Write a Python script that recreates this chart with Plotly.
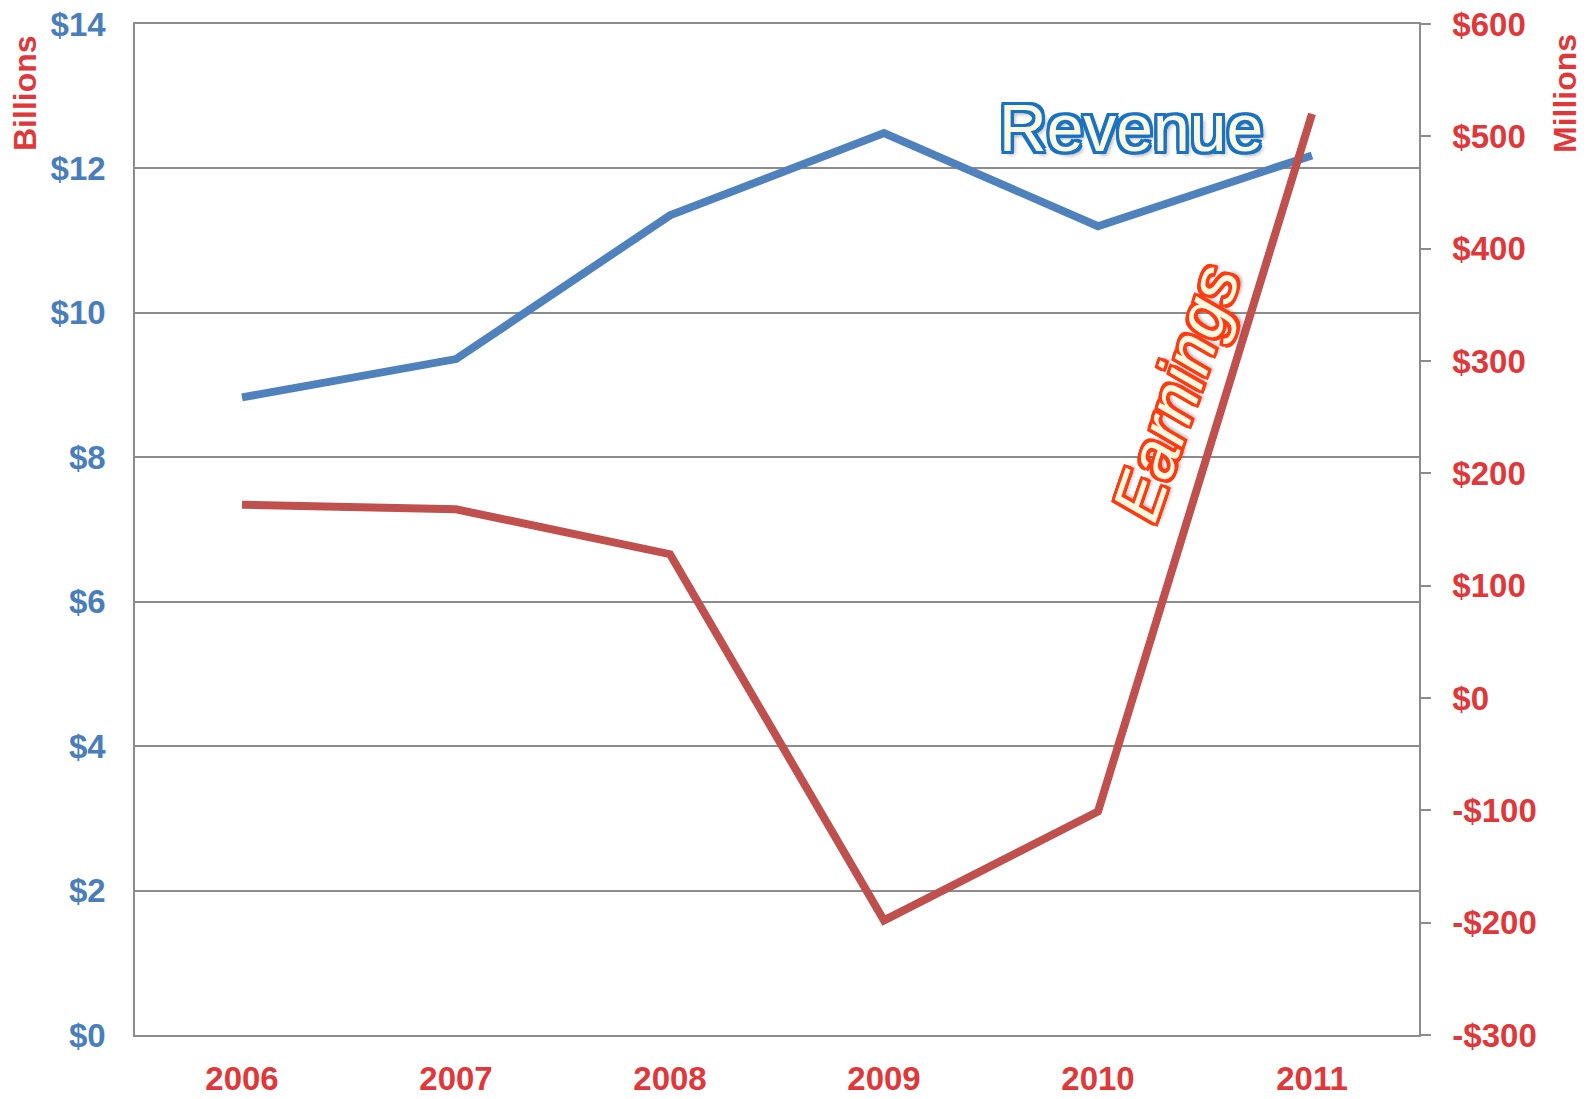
import plotly.graph_objects as go

years = ["2006", "2007", "2008", "2009", "2010", "2011"]
revenue_billions = [8.83, 9.36, 11.35, 12.49, 11.20, 12.18]
earnings_millions = [172, 168, 128, -198, -101, 520]

left_tickvals = [0, 2, 4, 6, 8, 10, 12, 14]
left_ticktext = ["$0", "$2", "$4", "$6", "$8", "$10", "$12", "$14"]
right_tickvals = [-300, -200, -100, 0, 100, 200, 300, 400, 500, 600]
right_ticktext = ["-$300", "-$200", "-$100", "$0", "$100", "$200", "$300", "$400", "$500", "$600"]

BLUE = "#4F81BD"
RED = "#C0504D"
LBL_BLUE = "#4A7EBB"
LBL_RED = "#E0383A"
GRID = "#8C8C8C"
FONT = "Liberation Sans, Arial, sans-serif"

fig = go.Figure()
fig.add_trace(go.Scatter(x=years, y=revenue_billions, mode="lines",
                         line=dict(color=BLUE, width=8), yaxis="y", showlegend=False))
fig.add_trace(go.Scatter(x=years, y=earnings_millions, mode="lines",
                         line=dict(color=RED, width=8), yaxis="y2", showlegend=False))


def outline(color, w=2.5, drop="4px 4px 4px rgba(0,0,0,0.35)"):
    offs = []
    for dx, dy in [(-w, 0), (w, 0), (0, -w), (0, w), (-w, -w), (w, -w), (-w, w), (w, w),
                   (-w, -w / 2), (w, w / 2), (-w / 2, w), (w / 2, -w)]:
        offs.append(f"{dx}px {dy}px 0 {color}")
    offs.append(drop)
    return ", ".join(offs)


PW = 1284
PH = 1011

fig.update_layout(
    width=1589, height=1099,
    margin=dict(l=135, r=170, t=24, b=64),
    paper_bgcolor="white", plot_bgcolor="white",
    font=dict(family=FONT),
    xaxis=dict(
        type="category", range=[-0.5, 5.5], automargin=False,
        showline=True, linecolor=GRID, linewidth=1.5, mirror=True,
        showgrid=False, ticks="", ticklen=0,
        tickfont=dict(family=FONT, size=33, color=LBL_RED, weight="bold"),
        ticklabelstandoff=14, ticklabeloverflow="allow",
    ),
    yaxis=dict(
        range=[0, 14], tickvals=left_tickvals, ticktext=left_ticktext, automargin=False,
        showline=True, linecolor=GRID, linewidth=1.5,
        showgrid=True, gridcolor=GRID, gridwidth=1.5,
        zeroline=False, ticks="", ticklen=0,
        tickfont=dict(family=FONT, size=33, color=LBL_BLUE, weight="bold"),
        ticklabelstandoff=21, ticklabeloverflow="allow",
    ),
    yaxis2=dict(
        range=[-300, 600], tickvals=right_tickvals, ticktext=right_ticktext,
        overlaying="y", side="right", automargin=False,
        showline=True, linecolor=GRID, linewidth=1.5,
        showgrid=False, zeroline=False,
        ticks="outside", ticklen=10, tickcolor=GRID, tickwidth=1.5,
        tickfont=dict(family=FONT, size=33, color=LBL_RED, weight="bold"),
        ticklabelstandoff=15, ticklabeloverflow="allow",
    ),
    annotations=[
        dict(text="Billions", xref="paper", yref="paper", x=(25 - 135) / PW,
             y=(1035 - 93) / PH, textangle=-90, showarrow=False,
             xanchor="center", yanchor="middle",
             font=dict(family=FONT, size=32, color=LBL_RED, weight="bold")),
        dict(text="Millions", xref="paper", yref="paper", x=(1565 - 135) / PW,
             y=(1035 - 94) / PH, textangle=-90, showarrow=False,
             xanchor="center", yanchor="middle",
             font=dict(family=FONT, size=32, color=LBL_RED, weight="bold")),
        dict(text="Revenue", xref="paper", yref="paper", x=(1131 - 135) / PW,
             y=(1035 - 128) / PH, showarrow=False,
             xanchor="center", yanchor="middle",
             font=dict(family=FONT, size=66, color="#FBF9E0",
                       shadow=outline("#1A72C2", w=3))),
        dict(text="Earnings", xref="paper", yref="paper", x=(1176 - 135) / PW,
             y=(1035 - 393) / PH, textangle=-71, showarrow=False,
             xanchor="center", yanchor="middle",
             font=dict(family=FONT, size=67, color="#FBF9E0", style="italic",
                       shadow=outline("#FF3A10", w=3))),
    ],
)

fig.write_html("out.html", config={"displayModeBar": False},
               post_script="document.body.style.margin='0px';")
